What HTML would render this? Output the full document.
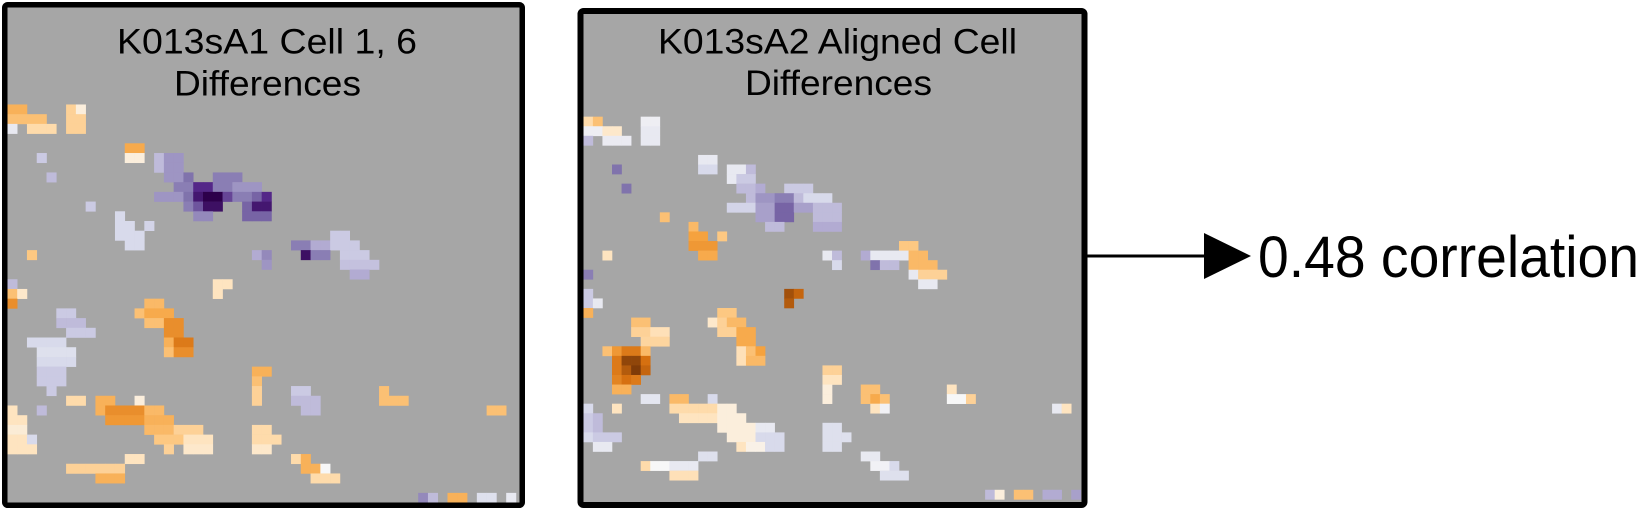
<!DOCTYPE html>
<html><head><meta charset="utf-8">
<style>
html,body{margin:0;padding:0;background:#fff;}
svg{display:block;}
text{font-family:"Liberation Sans",sans-serif;fill:#000;}
</style></head>
<body>
<svg id="fig" width="1643" height="509" viewBox="0 0 1643 509" xmlns="http://www.w3.org/2000/svg">
  <defs>
    <clipPath id="clip1"><rect x="7.5" y="7.5" width="512" height="495"/></clipPath>
    <clipPath id="clip2"><rect x="583.5" y="14" width="501" height="488"/></clipPath>
  </defs>
  <rect x="4.75" y="4.75" width="517.5" height="500.5" fill="#a6a6a6"/>
  <g id="cells1" clip-path="url(#clip1)"></g>
  <rect x="4.75" y="4.75" width="517.5" height="500.5" rx="3" fill="none" stroke="#000" stroke-width="5.5"/>
  <text x="267" y="53.5" font-size="35" text-anchor="middle" textLength="300" lengthAdjust="spacingAndGlyphs">K013sA1 Cell 1, 6</text>
  <text x="267.5" y="95.4" font-size="35" text-anchor="middle" textLength="187" lengthAdjust="spacingAndGlyphs">Differences</text>

  <rect x="580.5" y="11" width="504" height="494" fill="#a6a6a6"/>
  <g id="cells2" clip-path="url(#clip2)"></g>
  <rect x="580.5" y="11" width="504" height="494" rx="3" fill="none" stroke="#000" stroke-width="6"/>
  <text x="837.5" y="53.3" font-size="35" text-anchor="middle" textLength="359" lengthAdjust="spacingAndGlyphs">K013sA2 Aligned Cell</text>
  <text x="838.5" y="95" font-size="35" text-anchor="middle" textLength="187" lengthAdjust="spacingAndGlyphs">Differences</text>

  <line x1="1087" y1="256" x2="1206" y2="256" stroke="#000" stroke-width="3"/>
  <polygon points="1204,233 1251,256 1204,279" fill="#000"/>
  <text x="1258" y="277" font-size="58" textLength="381" lengthAdjust="spacingAndGlyphs">0.48 correlation</text>
</svg>
<script>
// runs: [row, colStart, colEnd(exclusive), value]  (value: negative = purple, positive = orange)
const panel1Runs = [
[10,0,2,0.4],[10,6,7,0.2],[10,7,8,0.05],
[11,0,4,0.3],[11,6,8,0.2],
[12,0,1,-0.05],[12,2,5,0.15],[12,6,8,0.2],
[14,12,14,0.45],
[15,3,4,-0.15],[15,12,14,0.05],[15,15,16,-0.2],[15,16,18,-0.35],
[16,15,16,-0.2],[16,16,18,-0.35],
[17,4,5,-0.2],[17,16,18,-0.35],[17,18,19,-0.5],[17,21,24,-0.45],
[18,17,19,-0.45],[18,19,21,-0.75],[18,21,23,-0.45],[18,23,26,-0.35],
[19,15,18,-0.35],[19,18,19,-0.5],[19,19,20,-0.85],[19,20,22,-1.0],[19,22,23,-0.65],[19,23,25,-0.45],[19,25,26,-0.55],[19,26,27,-0.75],
[20,8,9,-0.15],[20,18,19,-0.45],[20,19,20,-0.6],[20,20,22,-0.9],[20,24,25,-0.55],[20,25,27,-0.85],
[21,11,12,-0.1],[21,19,21,-0.4],[21,24,27,-0.55],
[22,11,13,-0.1],[22,14,15,-0.12],
[23,11,14,-0.1],[23,33,35,-0.15],
[24,12,14,-0.1],[24,29,31,-0.45],[24,31,33,-0.25],[24,33,36,-0.15],
[25,2,3,0.25],[25,25,26,-0.25],[25,26,27,-0.4],[25,30,31,-0.9],[25,31,33,-0.45],[25,34,37,-0.15],
[26,26,27,-0.35],[26,34,38,-0.18],
[27,35,37,-0.25],
[28,0,1,-0.2],[28,21,23,0.1],
[29,0,1,0.3],[29,1,2,0.08],[29,21,22,0.1],
[30,0,1,0.6],[30,14,16,0.35],
[31,5,7,-0.15],[31,13,14,0.3],[31,14,17,0.45],
[32,5,8,-0.2],[32,14,16,0.3],[32,16,18,0.6],
[33,6,9,-0.15],[33,16,18,0.6],
[34,2,6,-0.1],[34,16,17,0.4],[34,17,19,0.7],
[35,3,7,-0.08],[35,16,17,0.3],[35,17,19,0.6],
[36,3,7,-0.1],
[37,3,6,-0.15],[37,25,27,0.4],
[38,3,6,-0.15],[38,25,26,0.3],
[39,4,5,-0.15],[39,25,26,0.2],[39,29,31,-0.15],[39,38,39,0.3],
[40,6,8,0.15],[40,9,11,0.4],[40,13,14,0.05],[40,25,26,0.2],[40,29,32,-0.2],[40,38,41,0.3],
[41,0,1,0.1],[41,3,4,-0.2],[41,9,10,0.4],[41,10,14,0.6],[41,14,16,0.35],[41,30,32,-0.2],[41,49,51,0.3],
[42,0,2,0.1],[42,10,14,0.55],[42,14,17,0.4],
[43,0,2,0.06],[43,14,17,0.35],[43,17,20,0.2],[43,25,27,0.15],
[44,0,2,0.1],[44,2,3,-0.1],[44,15,18,0.25],[44,18,21,0.1],[44,25,28,0.15],
[45,0,3,0.1],[45,16,17,0.2],[45,18,21,0.08],[45,25,27,0.08],
[46,12,14,0.1],[46,29,30,0.15],[46,30,31,0.4],
[47,6,12,0.2],[47,30,32,0.4],[47,32,33,0.0],
[48,9,12,0.4],[48,31,34,0.15],
[50,42,43,-0.4],[50,43,44,-0.2],[50,45,47,0.4],[50,48,50,-0.08],[50,51,52,-0.05]
];
const panel2Runs = [
[10,0,1,0.15],[10,1,2,0.3],[10,6,8,-0.03],
[11,0,2,-0.03],[11,2,4,0.08],[11,6,8,-0.05],
[12,0,1,-0.2],[12,2,5,-0.04],[12,6,8,-0.05],
[14,12,14,-0.05],
[15,3,4,-0.5],[15,12,14,-0.1],[15,15,17,-0.05],[15,17,18,-0.2],
[16,15,16,-0.05],[16,16,18,-0.15],
[17,4,5,-0.5],[17,16,18,-0.2],[17,18,19,-0.25],[17,21,24,-0.15],
[18,17,18,-0.2],[18,18,20,-0.35],[18,20,22,-0.45],[18,22,23,-0.2],[18,23,26,-0.1],
[19,15,18,-0.12],[19,18,20,-0.3],[19,20,22,-0.55],[19,22,24,-0.3],[19,24,27,-0.2],
[20,8,9,0.3],[20,18,20,-0.3],[20,20,22,-0.55],[20,24,27,-0.2],
[21,11,12,0.35],[21,19,21,-0.2],[21,24,27,-0.25],
[22,11,13,0.5],[22,14,15,0.25],
[23,11,14,0.55],[23,33,35,0.25],
[24,2,3,0.1],[24,12,14,0.45],[24,25,26,-0.05],[24,26,27,-0.2],[24,29,30,-0.25],[24,30,34,-0.05],[24,34,36,0.35],
[25,26,27,-0.1],[25,30,31,-0.5],[25,31,33,-0.2],[25,34,37,0.35],
[26,0,1,-0.45],[26,34,35,-0.05],[26,35,38,0.2],
[27,35,37,-0.05],
[28,0,1,-0.15],[28,21,22,0.9],[28,22,23,0.8],
[29,0,1,-0.15],[29,1,2,-0.05],[29,21,22,0.85],
[30,0,1,0.4],[30,14,16,0.25],
[31,5,7,0.3],[31,13,14,0.08],[31,14,15,0.2],[31,15,17,0.35],
[32,5,7,0.2],[32,7,9,0.12],[32,14,16,0.2],[32,16,18,0.45],
[33,6,9,0.18],[33,16,18,0.45],
[34,2,3,0.3],[34,3,4,0.55],[34,4,6,0.7],[34,6,7,0.35],[34,16,17,0.12],[34,17,18,0.3],[34,18,19,0.5],
[35,3,4,0.7],[35,4,6,0.95],[35,6,7,0.75],[35,16,17,0.12],[35,17,19,0.35],
[36,3,4,0.7],[36,4,5,0.85],[36,5,6,1.0],[36,6,7,0.8],[36,25,27,0.2],
[37,3,4,0.65],[37,4,5,0.75],[37,5,6,0.7],[37,25,27,0.1],
[38,3,5,0.4],[38,25,26,0.05],[38,29,31,0.3],[38,38,39,0.1],
[39,6,8,-0.06],[39,9,11,0.35],[39,13,14,-0.1],[39,25,26,0.05],[39,29,30,0.3],[39,30,31,0.45],[39,31,32,0.3],[39,38,40,0.0],[39,40,41,0.2],
[40,0,1,-0.1],[40,3,4,0.1],[40,9,14,0.15],[40,14,16,0.05],[40,30,31,0.1],[40,31,32,-0.02],[40,49,50,-0.05],[40,50,51,0.1],
[41,0,1,-0.15],[41,1,2,-0.2],[41,10,14,0.1],[41,14,17,0.05],
[42,0,1,-0.15],[42,1,2,-0.2],[42,14,18,0.05],[42,18,20,-0.05],[42,25,27,-0.08],
[43,0,1,-0.1],[43,1,4,-0.15],[43,15,18,0.05],[43,18,21,-0.1],[43,25,28,-0.08],
[44,1,3,-0.05],[44,16,17,0.1],[44,17,19,0.03],[44,19,21,-0.1],[44,25,27,-0.08],
[45,12,14,-0.08],[45,29,31,-0.05],
[46,6,7,0.15],[46,7,9,0.0],[46,9,12,-0.05],[46,30,32,-0.02],[46,32,33,-0.1],
[47,9,12,0.12],[47,31,34,-0.08],
[49,42,43,-0.2],[49,43,44,0.05],[49,45,47,0.3],[49,48,50,-0.25],[49,51,52,-0.3]
];

const stops = [
 [-1,[45,0,75]],[-0.75,[84,39,136]],[-0.5,[128,115,172]],[-0.25,[178,171,210]],[-0.1,[216,218,235]],
 [0,[247,247,247]],[0.1,[254,228,192]],[0.25,[253,200,130]],[0.5,[245,162,62]],[0.75,[214,112,16]],[1,[127,59,8]]
];
function color(v){
  v=Math.max(-1,Math.min(1,v));
  for(let i=0;i<stops.length-1;i++){
    const a=stops[i],b=stops[i+1];
    if(v>=a[0]&&v<=b[0]){
      const t=(v-a[0])/(b[0]-a[0]);
      const c=a[1].map((x,k)=>Math.round(x+(b[1][k]-x)*t));
      return 'rgb('+c.join(',')+')';
    }
  }
  return '#f7f7f7';
}
const NS='http://www.w3.org/2000/svg';
function draw(gid, runs, x0, y0, cw, ch){
  const g=document.getElementById(gid);
  runs.forEach(r=>{
    for(let c=r[1];c<r[2];c++){
      const el=document.createElementNS(NS,'rect');
      el.setAttribute('x',(x0+c*cw).toFixed(2));
      el.setAttribute('y',(y0+r[0]*ch).toFixed(2));
      el.setAttribute('width',(cw+0.3).toFixed(2));
      el.setAttribute('height',(ch+0.3).toFixed(2));
      el.setAttribute('fill',color(r[3]));
      
      
      g.appendChild(el);
    }
  });
}
draw('cells1', panel1Runs, 7.4, 7.37, 9.78, 9.71);
draw('cells2', panel2Runs, 583.3, 21.0, 9.567, 9.567);
</script>
</body></html>
